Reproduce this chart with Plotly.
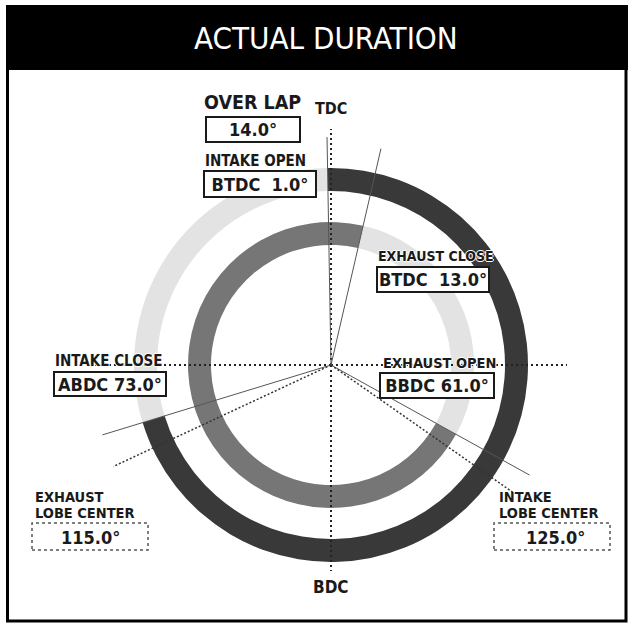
import plotly.graph_objects as go

# ---------------- data ----------------
title_text = "ACTUAL DURATION"
overlap_deg = 14.0
intake_open_btdc = 1.0
intake_close_abdc = 73.0
exhaust_open_bbdc = 61.0
exhaust_close_btdc = 13.0
intake_lobe_center = 125.0
exhaust_lobe_center = 115.0

# event angles, clockwise from TDC
a_intake_open = -intake_open_btdc
a_intake_close = 180 + intake_close_abdc
a_exhaust_open = 180 - exhaust_open_bbdc
a_exhaust_close = exhaust_close_btdc
a_intake_lobe = intake_lobe_center
a_exhaust_lobe = 360 - exhaust_lobe_center

# ---------------- style ----------------
W, H = 632, 624
CX, CY, RPX = 331, 365, 240
DARK, MID, LIGHT = "#393939", "#767676", "#e3e3e3"
OUT_BASE, OUT_T = 174, 23
IN_BASE, IN_T = 120, 23
LBL = "Noto Sans ExtraCondensed, Noto Sans Condensed, DejaVu Sans Condensed, sans-serif"
HDR = "Noto Sans Condensed, DejaVu Sans Condensed, sans-serif"


def fx(x):
    return x / W


def fy(y):
    return 1 - y / H


def arc(a0, a1):
    a0, a1 = a0 % 360, a1 % 360
    if a1 <= a0:
        a1 += 360
    return (a0 + a1) / 2, a1 - a0


fig = go.Figure()

segs = [
    (a_intake_open, a_intake_close, OUT_BASE, OUT_T, DARK),
    (a_intake_close, a_intake_open, OUT_BASE, OUT_T, LIGHT),
    (a_exhaust_open, a_exhaust_close, IN_BASE, IN_T, MID),
    (a_exhaust_close, a_exhaust_open, IN_BASE, IN_T, LIGHT),
]
for a0, a1, base, t, col in segs:
    c, w = arc(a0, a1)
    fig.add_trace(go.Barpolar(theta=[c], width=[w], r=[t], base=[base],
                              marker=dict(color=col, line=dict(width=0)),
                              hoverinfo="skip", showlegend=False))

# reference dotted axes (TDC / BDC / horizontal)
for ang, L in [(0, 236), (180, 206), (90, 236), (270, 236)]:
    fig.add_trace(go.Scatterpolar(theta=[ang, ang], r=[0, L], mode="lines",
                                  line=dict(color="#222", width=2, dash="2px,3px"),
                                  hoverinfo="skip", showlegend=False))
# event lines (solid)
for ang, L in [(a_intake_open, 228), (a_exhaust_close, 222),
               (a_exhaust_open, 227), (a_intake_close, 239)]:
    fig.add_trace(go.Scatterpolar(theta=[ang, ang], r=[0, L], mode="lines",
                                  line=dict(color="#555", width=1),
                                  hoverinfo="skip", showlegend=False))
# lobe center lines (dotted)
for ang, L in [(a_intake_lobe, 222), (a_exhaust_lobe, 241)]:
    fig.add_trace(go.Scatterpolar(theta=[ang, ang], r=[0, L], mode="lines",
                                  line=dict(color="#333", width=1.5, dash="2px,2px"),
                                  hoverinfo="skip", showlegend=False))

fig.update_layout(
    width=W, height=H, margin=dict(l=0, r=0, t=0, b=0),
    paper_bgcolor="white", plot_bgcolor="white",
    polar=dict(
        domain=dict(x=[fx(CX - RPX), fx(CX + RPX)], y=[fy(CY + RPX), fy(CY - RPX)]),
        bgcolor="rgba(0,0,0,0)", hole=0, barmode="overlay",
        radialaxis=dict(range=[0, RPX], visible=False),
        angularaxis=dict(rotation=90, direction="clockwise", visible=False),
    ),
)

shapes = [
    dict(type="rect", xref="paper", yref="paper", x0=fx(6), x1=fx(628), y0=fy(70), y1=fy(5),
         fillcolor="black", line=dict(width=0), layer="below"),
    dict(type="rect", xref="paper", yref="paper", x0=fx(7.5), x1=fx(626), y0=fy(621), y1=fy(68),
         fillcolor="rgba(0,0,0,0)", line=dict(color="black", width=3), layer="above"),
    dict(type="rect", xref="paper", yref="paper", x0=fx(32), x1=fx(148), y0=fy(550), y1=fy(523),
         fillcolor="white", line=dict(color="#555", width=1.5, dash="dot"), layer="above"),
    dict(type="rect", xref="paper", yref="paper", x0=fx(494), x1=fx(610), y0=fy(550), y1=fy(523),
         fillcolor="white", line=dict(color="#555", width=1.5, dash="dot"), layer="above"),
]
fig.update_layout(shapes=shapes)

SH = "1px 0 0 #fff, -1px 0 0 #fff, 0 1px 0 #fff, 0 -1px 0 #fff"


def label(x, y, text, size, anchor="center", shadow=True):
    fig.add_annotation(x=fx(x), y=fy(y), xref="paper", yref="paper", text=text,
                       showarrow=False, xanchor=anchor, yanchor="middle", align="left",
                       font=dict(family=LBL, size=size, color="#1a1a1a", weight="bold",
                                 shadow=SH if shadow else None))


def box(x0, x1, y0, y1, text, size):
    fig.add_annotation(x=fx((x0 + x1) / 2), y=fy((y0 + y1) / 2), xref="paper", yref="paper",
                       text=text, showarrow=False, xanchor="center", yanchor="middle",
                       width=x1 - x0 - 4, height=y1 - y0 - 4, align="center", valign="middle",
                       bgcolor="white", bordercolor="#1a1a1a", borderwidth=2, borderpad=0,
                       font=dict(family=LBL, size=size, color="#1a1a1a", weight="bold"))


# header
fig.add_annotation(x=fx(326), y=fy(38), xref="paper", yref="paper", text=title_text,
                   showarrow=False, xanchor="center", yanchor="middle",
                   font=dict(family=HDR, size=31, color="white"))

label(252, 103, "OVER LAP", 19.5)
box(205, 301, 116, 143, f"{overlap_deg:.1f}°", 18)
label(203, 161, "INTAKE OPEN", 15, "left")
box(203, 317, 170, 198, f"BTDC&nbsp;&nbsp;{intake_open_btdc:.1f}°", 18)
label(331, 108, "TDC", 16)
label(376, 256, "EXHAUST CLOSE", 14, "left")
box(376, 490, 266, 293, f"BTDC&nbsp;&nbsp;{exhaust_close_btdc:.1f}°", 18)
label(53, 361, "INTAKE CLOSE", 15, "left")
box(53, 167, 371, 397, f"ABDC {intake_close_abdc:.1f}°", 18)
label(381, 363, "EXHAUST OPEN", 14.5, "left")
box(379, 495, 372, 399, f"BBDC {exhaust_open_bbdc:.1f}°", 18)
label(33, 497, "EXHAUST", 14.5, "left", shadow=False)
label(33, 513, "LOBE CENTER", 14.5, "left", shadow=False)
label(90, 537, f"{exhaust_lobe_center:.1f}°", 18, shadow=False)
label(497, 497, "INTAKE", 14.5, "left", shadow=False)
label(497, 513, "LOBE CENTER", 14.5, "left", shadow=False)
label(555, 537, f"{intake_lobe_center:.1f}°", 18, shadow=False)
label(331, 587, "BDC", 17)

fig.write_html("out.html", config={"displayModeBar": False},
               post_script="document.body.style.margin='0px';")
